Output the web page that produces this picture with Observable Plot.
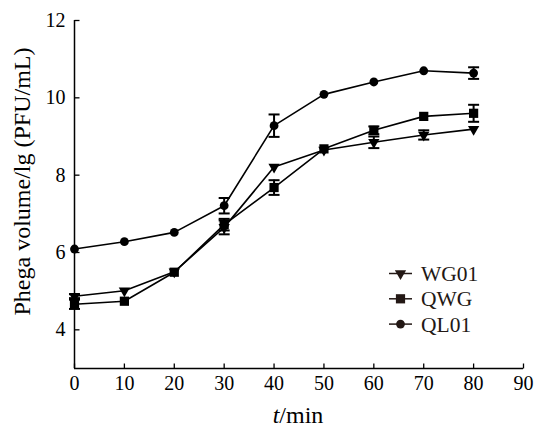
<!DOCTYPE html>
<html>
<head>
<meta charset="utf-8">
<script src="https://cdn.jsdelivr.net/npm/d3@7"></script>
<script src="https://cdn.jsdelivr.net/npm/@observablehq/plot@0.6"></script>
<style>
  html, body { margin: 0; padding: 0; background: #fff; }
  #chart { width: 534px; height: 428px; }
</style>
</head>
<body>
<div id="chart"></div>
<script>
const times = [0, 10, 20, 30, 40, 50, 60, 70, 80];
const seriesNames = ["WG01", "QWG", "QL01"];
const wg01 = [4.87, 5.01, 5.50, 6.65, 8.21, 8.65, 8.85, 9.04, 9.19];
const wg01Err = [0.05, 0, 0, 0.18, 0, 0, 0.15, 0.12, 0];
const qwg = [4.66, 4.74, 5.49, 6.72, 7.68, 8.68, 9.16, 9.52, 9.60];
const qwgErr = [0.12, 0, 0, 0.15, 0.19, 0, 0.1, 0, 0.22];
const ql01 = [6.09, 6.28, 6.52, 7.21, 9.28, 10.09, 10.41, 10.70, 10.64];
const ql01Err = [0, 0, 0, 0.2, 0.29, 0, 0, 0, 0.15];
const xTicks = [0, 10, 20, 30, 40, 50, 60, 70, 80, 90];
const yTicks = [4, 6, 8, 10, 12];
const xLabelItalic = "t";
const xLabelRest = "/min";
const yLabel = "Phega volume/lg (PFU/mL)";

const FONT = "Liberation Serif";
const valuesBySeries = {WG01: wg01, QWG: qwg, QL01: ql01};
const errBySeries = {WG01: wg01Err, QWG: qwgErr, QL01: ql01Err};
const symbolBySeries = {WG01: "triangle", QWG: "square", QL01: "circle"};
const rBySeries = {WG01: 4.2, QWG: 5.2, QL01: 4.4};
const rotateBySeries = {WG01: 180, QWG: 0, QL01: 0};

const rows = [];
for (const s of seriesNames) {
  times.forEach((t, i) => rows.push({series: s, t, v: valuesBySeries[s][i], e: errBySeries[s][i]}));
}
const errRows = rows.filter(d => d.e > 0);

const capSymbol = {draw(ctx) { ctx.moveTo(-5.5, 0); ctx.lineTo(5.5, 0); }};
const yTickSymbol = {draw(ctx) { ctx.moveTo(0, 0); ctx.lineTo(5, 0); }};
const xTickSymbol = {draw(ctx) { ctx.moveTo(0, 0); ctx.lineTo(0, -5); }};

const ink = "#000";
const marks = [
  Plot.axisX({ticks: xTicks, tickSize: 0, tickPadding: 7, tickFormat: d => String(d), label: null, fontSize: 20, fontFamily: FONT}),
  Plot.axisY({ticks: yTicks, tickSize: 0, tickPadding: 9, tickFormat: d => String(d), label: null, fontSize: 20, fontFamily: FONT}),
  Plot.dot(yTicks, {x: () => 0, y: d => d, symbol: yTickSymbol, r: 3, fill: "none", stroke: ink, strokeWidth: 1.3}),
  Plot.dot(xTicks, {x: d => d, y: () => 3, symbol: xTickSymbol, r: 3, fill: "none", stroke: ink, strokeWidth: 1.3}),
  Plot.ruleY([3], {stroke: ink, strokeWidth: 1.5}),
  Plot.ruleX([0], {stroke: ink, strokeWidth: 1.5}),
  Plot.line(rows, {x: "t", y: "v", z: "series", stroke: ink, strokeWidth: 1.6}),
  Plot.ruleX(errRows, {x: "t", y1: d => d.v - d.e, y2: d => d.v + d.e, stroke: ink, strokeWidth: 2}),
  Plot.dot(errRows, {x: "t", y: d => d.v - d.e, symbol: capSymbol, r: 3, fill: "none", stroke: ink, strokeWidth: 2}),
  Plot.dot(errRows, {x: "t", y: d => d.v + d.e, symbol: capSymbol, r: 3, fill: "none", stroke: ink, strokeWidth: 2})
];
for (const s of seriesNames) {
  marks.push(Plot.dot(rows.filter(d => d.series === s), {
    x: "t", y: "v", symbol: symbolBySeries[s], r: rBySeries[s], rotate: rotateBySeries[s], fill: ink, stroke: "none"
  }));
}
marks.push(Plot.text([yLabel], {text: d => d, frameAnchor: "left", rotate: -90, dx: -52, dy: -13, fontSize: 24, fontFamily: FONT, textAnchor: "middle", lineAnchor: "middle", fill: ink}));

const chart = Plot.plot({
  width: 534,
  height: 428,
  marginLeft: 74,
  marginRight: 11,
  marginTop: 20,
  marginBottom: 60,
  x: {domain: [0, 90], axis: null},
  y: {domain: [3, 12], axis: null},
  style: {fontFamily: FONT, fontSize: "20px", color: ink, background: "#fff"},
  marks
});

const svg = d3.select(chart);
const xl = svg.append("text")
  .attr("x", 298).attr("y", 423)
  .attr("text-anchor", "middle")
  .attr("font-family", FONT)
  .attr("font-size", 24)
  .attr("fill", ink);
xl.append("tspan").attr("font-style", "italic").text(xLabelItalic);
xl.append("tspan").text(xLabelRest);

const legendInk = "#231815";
const lg = svg.append("g").attr("font-size", 21.5).attr("font-family", FONT).attr("fill", legendInk).attr("text-anchor", "start");
seriesNames.forEach((s, i) => {
  const y = 273.5 + i * 25.3;
  lg.append("line").attr("x1", 389).attr("x2", 412).attr("y1", y).attr("y2", y)
    .attr("stroke", legendInk).attr("stroke-width", 1.5);
  const size = Math.PI * rBySeries[s] * rBySeries[s];
  const symType = s === "WG01" ? d3.symbolTriangle : s === "QWG" ? d3.symbolSquare : d3.symbolCircle;
  lg.append("path").attr("d", d3.symbol(symType, size)())
    .attr("transform", `translate(400.5,${y}) rotate(${rotateBySeries[s]})`)
    .attr("fill", legendInk);
  lg.append("text").attr("x", 421).attr("y", y).attr("dy", "0.35em").attr("text-anchor", "start").text(s);
});

document.getElementById("chart").appendChild(chart);
</script>
</body>
</html>
